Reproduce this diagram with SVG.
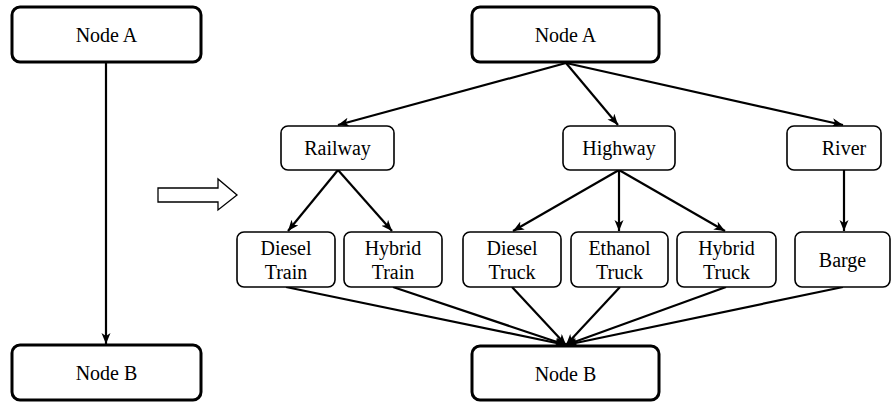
<svg xmlns="http://www.w3.org/2000/svg" width="891" height="402" viewBox="0 0 891 402">
  <style>
    .big { fill: #fff; stroke: #000; stroke-width: 3; }
    .small { fill: #fff; stroke: #000; stroke-width: 1.6; }
    text { font-family: "Times New Roman", Times, "Liberation Serif", Tinos, "Noto Serif", "DejaVu Serif", FreeSerif, serif; font-size: 20px; fill: #000; text-anchor: middle; }
    .edge { fill: none; stroke: #000; stroke-width: 2.2; }
    .arr { marker-end: url(#tip); }
  </style>
  <defs>
    <marker id="tip" markerUnits="userSpaceOnUse" markerWidth="12" markerHeight="10" refX="11" refY="4.5" orient="auto">
      <path d="M0,0 L11,4.5 L0,9 L3,4.5 z" fill="#000"/>
    </marker>
  </defs>

  <!-- connectors -->
  <g id="connectors">
    <line class="edge arr" x1="106" y1="62" x2="106" y2="344"/>
    <line class="edge arr" x1="566" y1="63" x2="338" y2="125"/>
    <line class="edge arr" x1="566" y1="63" x2="618" y2="125"/>
    <line class="edge arr" x1="566" y1="63" x2="843" y2="125"/>
    <line class="edge arr" x1="338" y1="170" x2="288" y2="231"/>
    <line class="edge arr" x1="338" y1="170" x2="392" y2="231"/>
    <line class="edge arr" x1="619" y1="170" x2="513" y2="231"/>
    <line class="edge arr" x1="619" y1="170" x2="619" y2="231"/>
    <line class="edge arr" x1="619" y1="170" x2="725" y2="231"/>
    <line class="edge arr" x1="844" y1="170" x2="844" y2="231"/>
    <line class="edge arr" x1="286" y1="287" x2="566" y2="345"/>
    <line class="edge arr" x1="393" y1="287" x2="566" y2="345"/>
    <line class="edge arr" x1="512" y1="287" x2="566" y2="345"/>
    <line class="edge arr" x1="620" y1="287" x2="566" y2="345"/>
    <line class="edge arr" x1="726" y1="287" x2="566" y2="345"/>
    <line class="edge arr" x1="843" y1="287" x2="566" y2="345"/>
  </g>

  <!-- hollow transformation arrow -->
  <path id="transform-arrow" d="M158,188 L218,188 L218,179 L237,195 L218,210 L218,202 L158,202 z" fill="#fff" stroke="#000" stroke-width="1.3"/>

  <!-- left graph -->
  <g id="left-node-a">
    <rect class="big" x="12" y="7" width="189" height="55" rx="8"/>
    <text x="106.5" y="42">Node A</text>
  </g>
  <g id="left-node-b">
    <rect class="big" x="12" y="345" width="189" height="55" rx="8"/>
    <text x="106.5" y="380">Node B</text>
  </g>

  <!-- right graph -->
  <g id="node-a">
    <rect class="big" x="472" y="7" width="187" height="55" rx="8"/>
    <text x="565.5" y="42">Node A</text>
  </g>
  <g id="railway">
    <rect class="small" x="281" y="126" width="113" height="44" rx="7"/>
    <text x="337.5" y="155">Railway</text>
  </g>
  <g id="highway">
    <rect class="small" x="563" y="126" width="112" height="44" rx="7"/>
    <text x="619" y="155">Highway</text>
  </g>
  <g id="river">
    <rect class="small" x="787" y="126" width="94" height="44" rx="7"/>
    <text x="844" y="155">River</text>
  </g>
  <g id="diesel-train">
    <rect class="small" x="237" y="232" width="98" height="55" rx="7"/>
    <text x="286" y="255">Diesel</text>
    <text x="286" y="279">Train</text>
  </g>
  <g id="hybrid-train">
    <rect class="small" x="344" y="232" width="98" height="55" rx="7"/>
    <text x="393" y="255">Hybrid</text>
    <text x="393" y="279">Train</text>
  </g>
  <g id="diesel-truck">
    <rect class="small" x="463" y="232" width="98" height="55" rx="7"/>
    <text x="512" y="255">Diesel</text>
    <text x="512" y="279">Truck</text>
  </g>
  <g id="ethanol-truck">
    <rect class="small" x="571" y="232" width="97" height="55" rx="7"/>
    <text x="619.5" y="255">Ethanol</text>
    <text x="619.5" y="279">Truck</text>
  </g>
  <g id="hybrid-truck">
    <rect class="small" x="677" y="232" width="99" height="55" rx="7"/>
    <text x="726.5" y="255">Hybrid</text>
    <text x="726.5" y="279">Truck</text>
  </g>
  <g id="barge">
    <rect class="small" x="795" y="232" width="95" height="55" rx="7"/>
    <text x="842.5" y="267">Barge</text>
  </g>
  <g id="node-b">
    <rect class="big" x="472" y="346" width="187" height="54" rx="8"/>
    <text x="565.5" y="381">Node B</text>
  </g>
</svg>
